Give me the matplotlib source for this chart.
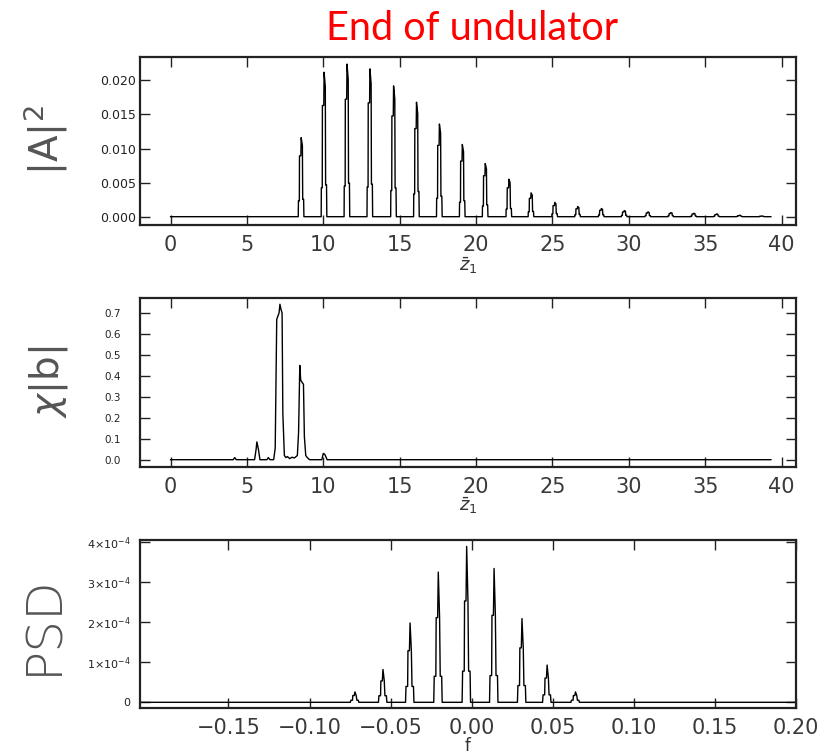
import matplotlib.pyplot as plt

# |A|^2 along z1: pulse centres and peak heights
pulse_z = [8.55, 10.05, 11.55, 13.05, 14.6, 16.1, 17.6, 19.1, 20.6, 22.15, 23.6,
           25.15, 26.65, 28.2, 29.7, 31.25, 32.75, 34.25, 35.75, 37.25, 38.7]
pulse_peak = [0.0116, 0.0212, 0.0224, 0.0217, 0.0192, 0.0168, 0.0136, 0.0106,
              0.0078, 0.0055, 0.0035, 0.0021, 0.0015, 0.0012, 0.0009, 0.0007,
              0.0006, 0.0005, 0.0004, 0.0002, 0.0001]
# profile of one pulse (offset in z1, fraction of peak)
pulse_dz = [-0.26, -0.19, -0.18, -0.12, -0.11, -0.02, 0.0, 0.08, 0.10, 0.16, 0.18, 0.26]
pulse_rel = [0.0, 0.0, 0.20, 0.20, 0.77, 0.77, 1.0, 0.90, 0.22, 0.22, 0.0, 0.0]
z_range = [0.0, 39.3]

# chi|b| along z1
chi_z = [0.0, 4.1, 4.2, 4.3, 5.5, 5.6, 5.65, 5.75, 5.85, 6.3, 6.4, 6.5, 6.75,
         6.85, 6.95, 7.1, 7.16, 7.22, 7.3, 7.35, 7.45, 7.55, 7.65, 7.8, 7.95,
         8.1, 8.3, 8.38, 8.46, 8.52, 8.6, 8.7, 8.76, 8.85, 8.95, 9.1, 9.9, 10.0,
         10.1, 10.25, 39.3]
chi_b = [0.0, 0.0, 0.01, 0.0, 0.0, 0.05, 0.085, 0.05, 0.0, 0.0, 0.01, 0.0, 0.0,
         0.055, 0.67, 0.70, 0.742, 0.72, 0.70, 0.22, 0.02, 0.01, 0.015, 0.005,
         0.012, 0.008, 0.02, 0.13, 0.45, 0.38, 0.37, 0.36, 0.11, 0.02, 0.01, 0.0,
         0.0, 0.03, 0.025, 0.0, 0.0]

# PSD lines
psd_f = [-0.072, -0.0547, -0.038, -0.0206, -0.0031, 0.0138, 0.031, 0.0465, 0.064]
psd_peak = [0.26e-4, 0.82e-4, 1.98e-4, 3.25e-4, 3.89e-4, 3.34e-4, 2.09e-4, 0.93e-4, 0.26e-4]
psd_df = [-0.0042, -0.0028, -0.0025, -0.0015, -0.0013, -0.0004, 0.0, 0.0008,
          0.0012, 0.0021, 0.0024, 0.0042]
psd_rel = [0.0, 0.0, 0.2, 0.2, 0.65, 0.65, 1.0, 0.65, 0.2, 0.2, 0.0, 0.0]
f_range = [-0.2045, 0.2]

z_ticks = [0, 5, 10, 15, 20, 25, 30, 35, 40]
a_ticks = [0.0, 0.005, 0.010, 0.015, 0.020]
a_labels = ["0.000", "0.005", "0.010", "0.015", "0.020"]
b_ticks = [0.0, 0.1, 0.2, 0.3, 0.4, 0.5, 0.6, 0.7]
b_labels = ["0.0", "0.1", "0.2", "0.3", "0.4", "0.5", "0.6", "0.7"]
f_ticks = [-0.15, -0.10, -0.05, 0.0, 0.05, 0.10, 0.15, 0.20]
f_labels = ["\u22120.15", "\u22120.10", "\u22120.05", "0.00", "0.05", "0.10", "0.15", "0.20"]
p_ticks = [0.0, 1e-4, 2e-4, 3e-4, 4e-4]
p_labels = ["0", r"$1{\times}10^{-4}$", r"$2{\times}10^{-4}$", r"$3{\times}10^{-4}$",
            r"$4{\times}10^{-4}$"]


def _build(start, end, centres, peaks, offsets, rel):
    xs, ys = [start], [0.0]
    for c, h in zip(centres, peaks):
        xs += [c + d for d in offsets]
        ys += [h * r for r in rel]
    xs.append(end)
    ys.append(0.0)
    return xs, ys


def _style(ax, ylab_size, ylab_pad):
    for s in ax.spines.values():
        s.set_linewidth(1.6)
        s.set_color("#222222")
    ax.tick_params(direction="in", top=True, right=True, length=7, width=1,
                   color="#222222")
    ax.tick_params(axis="x", labelsize=15, pad=7, labelcolor="#3a3a3a")
    ax.tick_params(axis="y", labelsize=ylab_size, pad=ylab_pad, labelcolor="#222222")


plt.rcParams["font.family"] = ["DejaVu Sans"]
plt.rcParams["mathtext.fontset"] = "dejavusans"

fig = plt.figure(figsize=(8.34, 7.54), dpi=100)
ax1 = fig.add_axes([0.1679, 0.7016, 0.7866, 0.2228])
ax2 = fig.add_axes([0.1679, 0.3806, 0.7866, 0.2241])
ax3 = fig.add_axes([0.1679, 0.0610, 0.7866, 0.2228])

zz, aa = _build(z_range[0], z_range[1], pulse_z, pulse_peak, pulse_dz, pulse_rel)
ax1.plot(zz, aa, color="black", lw=1.0)
ax1.set_xlim(-2.0, 40.95)
ax1.set_ylim(-0.00122, 0.02344)
ax1.set_xticks(z_ticks)
ax1.set_yticks(a_ticks)
ax1.set_yticklabels(a_labels)
_style(ax1, 9, 3)
ax1.set_xlabel(r"$\bar{z}_1$", fontsize=13, color="#333333")
ax1.xaxis.set_label_coords(0.5, -0.18)

ax2.plot(chi_z, chi_b, color="black", lw=1.0)
ax2.set_xlim(-2.0, 40.95)
ax2.set_ylim(-0.035, 0.7716)
ax2.set_xticks(z_ticks)
ax2.set_yticks(b_ticks)
ax2.set_yticklabels(b_labels)
_style(ax2, 7.5, 14)
ax2.set_xlabel(r"$\bar{z}_1$", fontsize=13, color="#333333")
ax2.xaxis.set_label_coords(0.5, -0.17)

ff, pp = _build(f_range[0], f_range[1], psd_f, psd_peak, psd_df, psd_rel)
ax3.plot(ff, pp, color="black", lw=1.0)
ax3.set_xlim(f_range[0], f_range[1])
ax3.set_ylim(-0.142e-4, 4.05e-4)
ax3.set_xticks(f_ticks)
ax3.set_xticklabels(f_labels)
ax3.set_yticks(p_ticks)
ax3.set_yticklabels(p_labels)
_style(ax3, 8, 7)
ax3.set_xlabel("f", fontsize=12, color="#333333")
ax3.xaxis.set_label_coords(0.5, -0.17)

fig.text(46 / 834, 1 - 140 / 754, r"$|\mathrm{A}|^{2}$", rotation=90, fontsize=28,
         color="#555555", ha="center", va="center")
fig.text(49 / 834, 1 - 382 / 754, r"$\chi|\mathrm{b}|$", rotation=90, fontsize=28,
         color="#555555", ha="center", va="center")
fig.text(43 / 834, 1 - 625 / 754, "PSD", rotation=90, fontsize=36, fontweight="light",
         color="#555555", ha="center", va="center")

fig.text(472 / 834, 1 - 29 / 754, "End of undulator", fontsize=28.5, color="#ff0000",
         family=["Lato", "Open Sans", "DejaVu Sans"], ha="center", va="center")

fig.savefig("out.png", dpi=100)
